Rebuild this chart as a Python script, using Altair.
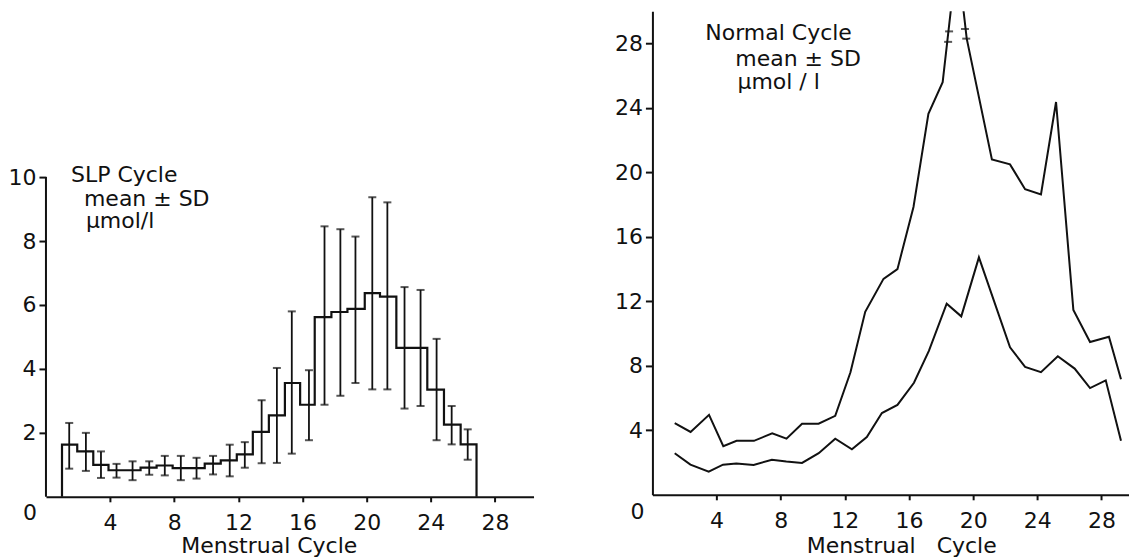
import altair as alt
import pandas as pd

FONT = "DejaVu Sans"
INK = "#111111"

# ---------------- Left panel: SLP cycle (step histogram of means, SD bars) -------------
slp_edges = [1.0, 1.95, 2.95, 3.9, 4.9, 5.9, 6.9, 7.9, 8.9, 9.9, 10.9, 11.9, 12.9, 13.9,
             14.9, 15.85, 16.76, 17.8, 18.8, 19.88, 20.83, 21.85, 22.8, 23.78, 24.82, 25.86, 26.85]
slp_mean = [1.63, 1.42, 1.00, 0.83, 0.83, 0.91, 0.98, 0.90, 0.90, 1.04, 1.14, 1.33, 2.03,
            2.55, 3.56, 2.88, 5.62, 5.78, 5.88, 6.37, 6.26, 4.66, 4.66, 3.35, 2.26, 1.64]
slp_hi = [2.31, 2.00, 1.42, 1.03, 1.11, 1.11, 1.28, 1.28, 1.22, 1.28, 1.63, 1.71, 3.02,
          4.03, 5.80, 3.96, 8.46, 8.37, 8.14, 9.37, 9.21, 6.56, 6.47, 4.94, 2.84, 2.11]
slp_lo = [0.88, 0.81, 0.59, 0.60, 0.52, 0.69, 0.67, 0.52, 0.57, 0.70, 0.64, 0.91, 1.05,
          1.06, 1.35, 1.77, 2.88, 3.16, 3.56, 3.36, 3.36, 2.76, 2.84, 1.77, 1.64, 1.16]
slp_bar_x = [1.45, 2.49, 3.43, 4.40, 5.40, 6.44, 7.41, 8.41, 9.39, 10.42, 11.46, 12.40, 13.45,
             14.40, 15.33, 16.40, 17.37, 18.36, 19.30, 20.35, 21.29, 22.36, 23.36, 24.36, 25.30, 26.30]

# ---------------- Right panel: normal cycle (two curves) -------------
upper_x = [1.39, 2.38, 3.53, 4.42, 5.25, 6.33, 7.47, 8.36, 9.33, 10.36, 11.40, 12.35, 13.27, 14.41,
           15.28, 16.28, 17.21, 18.10, 19.00, 19.60, 21.17, 22.30, 23.24, 24.23, 25.17, 26.25,
           27.29, 28.47, 29.22]
upper_y = [4.45, 3.90, 4.96, 3.02, 3.35, 3.35, 3.81, 3.48, 4.41, 4.41, 4.90, 7.6, 11.35, 13.40,
           14.00, 17.86, 23.64, 25.60, 33.5, 28.30, 20.80, 20.50, 18.96, 18.63, 24.37, 11.47,
           9.48, 9.81, 7.17]
lower_x = [1.39, 2.37, 3.51, 4.40, 5.23, 6.31, 7.45, 8.35, 9.33, 10.37, 11.40, 12.44, 13.37, 14.31,
           15.28, 16.31, 17.24, 18.35, 19.26, 20.36, 22.30, 23.24, 24.23, 25.28, 26.33, 27.29, 28.27, 29.22]
lower_y = [2.58, 1.87, 1.43, 1.87, 1.94, 1.85, 2.18, 2.07, 1.98, 2.58, 3.48, 2.82, 3.58, 5.07,
           5.58, 6.95, 8.93, 11.86, 11.07, 14.73, 9.15, 7.94, 7.61, 8.60, 7.83, 6.62, 7.10, 3.35]
# axis-break marks on the off-scale peak of the upper curve
break_x = [18.50, 18.44, 19.49, 19.57]
break_y = [28.75, 28.10, 28.90, 28.30]

x_ticks = [4, 8, 12, 16, 20, 24, 28]
left_y_ticks = [2, 4, 6, 8, 10]
right_y_ticks = [4, 8, 12, 16, 20, 24, 28]

left_notes = ["SLP Cycle", "mean ± SD", "µmol/l"]
left_note_x = [1.56, 2.37, 2.49]
left_note_y = [9.84, 9.11, 8.40]
right_notes = ["Normal Cycle", "mean ± SD", "µmol / l"]
right_note_x = [3.30, 5.17, 5.30]
right_note_y = [28.2, 26.6, 25.2]

# ---------------- data frames ----------------
step_pts = [(slp_edges[0], 0.0)] + [(slp_edges[i], slp_mean[i]) for i in range(len(slp_mean))] + [(slp_edges[-1], 0.0)]
step_df = pd.DataFrame({"x": [p[0] for p in step_pts], "y": [p[1] for p in step_pts],
                        "i": list(range(len(step_pts)))})
err_df = pd.DataFrame({"x": slp_bar_x, "lo": slp_lo, "hi": slp_hi})
left_axis_df = pd.DataFrame({"x": [0], "y0": [0], "y1": [10]})
zero_df = pd.DataFrame({"x": [0], "y": [0], "t": ["0"]})
lnote_df = pd.DataFrame({"x": left_note_x, "y": left_note_y, "t": left_notes})
rnote_df = pd.DataFrame({"x": right_note_x, "y": right_note_y, "t": right_notes})
curve_df = pd.concat([
    pd.DataFrame({"x": upper_x, "y": upper_y, "s": "upper", "i": range(len(upper_x))}),
    pd.DataFrame({"x": lower_x, "y": lower_y, "s": "lower", "i": range(len(lower_x))}),
])
break_df = pd.DataFrame({"x": break_x, "y": break_y})

# ---------------- scales & axes ----------------
LW, LH = 488, 486
RW, RH = 485, 484
xs_left = alt.Scale(domain=[0, LW / 16.05], nice=False, zero=False)
ys_left = alt.Scale(domain=[0, LH / 32.0], nice=False, zero=False)
xs_right = alt.Scale(domain=[0, RW / 16.05], nice=False, zero=False)
ys_right = alt.Scale(domain=[0, 30], nice=False, zero=False)

common_axis = dict(grid=False, domainColor=INK, tickColor=INK, labelColor=INK, titleColor=INK,
                   domainWidth=2, tickWidth=2, labelFont=FONT, labelFontSize=22,
                   titleFont=FONT, titleFontSize=22, titleFontWeight="normal",
                   labelFlush=False, labelOverlap=False)

def x_axis(title, tx, ty):
    return alt.Axis(values=x_ticks, title=title, tickSize=5, labelPadding=28,
                    labelBaseline="alphabetic", titleX=tx, titleY=ty,
                    titleBaseline="alphabetic", titleAlign="center", **common_axis)

left_xaxis = x_axis("Menstrual Cycle", 223, 56)
right_xaxis = x_axis("Menstrual\u00a0\u00a0\u00a0Cycle", 249, 58)
left_yaxis = alt.Axis(values=left_y_ticks, title=None, domain=False, tickSize=7, labelPadding=3, **common_axis)
right_yaxis = alt.Axis(values=right_y_ticks, title=None, tickSize=7, labelPadding=3, **common_axis)

# ---------------- left chart ----------------
lx = alt.X("x:Q", scale=xs_left, axis=left_xaxis)
step = alt.Chart(step_df).mark_line(interpolate="step-after", color=INK, strokeWidth=2.2).encode(
    x=lx, y=alt.Y("y:Q", scale=ys_left, axis=left_yaxis), order=alt.Order("i:Q"))
err = alt.Chart(err_df).mark_rule(color=INK, strokeWidth=1.8).encode(
    x=alt.X("x:Q"), y=alt.Y("lo:Q"), y2="hi:Q")
cap_hi = alt.Chart(err_df).mark_tick(orient="horizontal", color=INK, size=8, thickness=2).encode(
    x="x:Q", y="hi:Q")
cap_lo = alt.Chart(err_df).mark_tick(orient="horizontal", color=INK, size=8, thickness=2).encode(
    x="x:Q", y="lo:Q")
yline = alt.Chart(left_axis_df).mark_rule(color=INK, strokeWidth=2).encode(
    x="x:Q", y="y0:Q", y2="y1:Q")
zero_l = alt.Chart(zero_df).mark_text(font=FONT, fontSize=22, color=INK, align="center",
                                      baseline="alphabetic", dx=-16, dy=23).encode(
    x="x:Q", y="y:Q", text="t:N")
lnotes = alt.Chart(lnote_df).mark_text(font=FONT, fontSize=22, color=INK, align="left",
                                       baseline="alphabetic").encode(x="x:Q", y="y:Q", text="t:N")
left = alt.layer(step, err, cap_hi, cap_lo, yline, zero_l, lnotes).properties(width=LW, height=LH)

# ---------------- right chart ----------------
curves = alt.Chart(curve_df).mark_line(color=INK, strokeWidth=2, clip=True).encode(
    x=alt.X("x:Q", scale=xs_right, axis=right_xaxis),
    y=alt.Y("y:Q", scale=ys_right, axis=right_yaxis),
    detail="s:N", order=alt.Order("i:Q"))
breaks = alt.Chart(break_df).mark_tick(orient="horizontal", color=INK, size=8, thickness=2).encode(
    x="x:Q", y="y:Q")
zero_r = alt.Chart(zero_df).mark_text(font=FONT, fontSize=22, color=INK, align="center",
                                      baseline="alphabetic", dx=-15, dy=24).encode(
    x="x:Q", y="y:Q", text="t:N")
rnotes = alt.Chart(rnote_df).mark_text(font=FONT, fontSize=22, color=INK, align="left",
                                       baseline="alphabetic").encode(x="x:Q", y="y:Q", text="t:N")
right = alt.layer(curves, breaks, zero_r, rnotes).properties(width=RW, height=RH)

chart = alt.hconcat(left, right, spacing=119, bounds="flush").properties(
    padding={"left": 0, "top": 3, "right": -8, "bottom": 0},
    background="white",
).configure_view(stroke=None)

chart.save("out.html", embed_options={"renderer": "svg", "actions": False})
